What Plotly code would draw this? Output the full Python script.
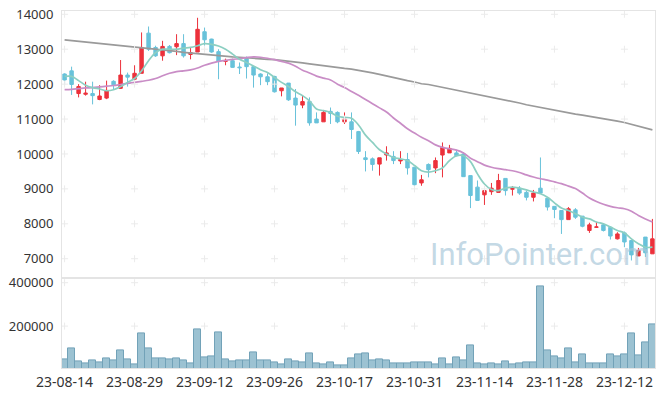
import plotly.graph_objects as go
import datetime as dt

# ---- data ----
start = dt.date(2023, 8, 14)
holidays = {dt.date(2023, 8, 15), dt.date(2023, 9, 28), dt.date(2023, 9, 29),
            dt.date(2023, 10, 2), dt.date(2023, 10, 3), dt.date(2023, 10, 9)}
dates = []
d = start
while len(dates) < 85:
    if d.weekday() < 5 and d not in holidays:
        dates.append(d.strftime("%y-%m-%d"))
    d += dt.timedelta(days=1)

open_ = [12290, 12380, 11730, 11710, 11730, 11560, 11600, 12080, 11880, 12260,
         12140, 12310, 13460, 13050, 12810, 13080, 13070, 13160, 12850, 12920,
         13500, 13290, 12930, 12650, 12670, 12490, 12730, 12500, 12290, 12210,
         12220, 11810, 12030, 11600, 11400, 11500, 11000, 10920, 11220, 11190,
         10920, 10920, 10640, 9890, 9860, 9710, 9970, 9930, 9800, 9840,
         9620, 9170, 9700, 9600, 9970, 10030, 10030, 10000, 9380, 9050,
         8830, 8920, 8900, 9300, 8990, 9020, 8900, 8760, 9020, 8730,
         8500, 8380, 8120, 8400, 8220, 7810, 7900, 7970, 7900, 7570,
         7740, 7520, 7080, 7620, 7140]
high = [12310, 12500, 12000, 12070, 12070, 11970, 12100, 12110, 12690, 12330,
        12540, 13480, 13650, 13100, 13240, 13120, 13430, 13430, 13050, 13900,
        13620, 13300, 13000, 12730, 12730, 12620, 12790, 12520, 12310, 12310,
        12240, 11890, 12030, 11860, 11670, 11620, 11190, 11260, 11330, 11220,
        11190, 11190, 10660, 10080, 9900, 9890, 10220, 10080, 10080, 10030,
        9620, 9400, 9730, 9900, 10330, 10260, 10120, 10050, 9380, 9240,
        8970, 9170, 9430, 9300, 9080, 9080, 8950, 8970, 9900, 8760,
        8500, 8380, 8480, 8450, 8220, 8030, 8050, 8000, 7930, 7760,
        7780, 7520, 7310, 7620, 8140]
low = [11970, 11690, 11620, 11670, 11420, 11540, 11570, 11860, 11860, 11930,
       12110, 12310, 12950, 12780, 12670, 12880, 12830, 12760, 12710, 12920,
       13100, 12900, 12140, 12540, 12470, 12290, 12160, 11900, 11970, 11970,
       11760, 11650, 11520, 10810, 11310, 10810, 10890, 10920, 10860, 10880,
       10860, 10430, 10000, 9500, 9520, 9380, 9810, 9710, 9710, 9410,
       9050, 9090, 9330, 9450, 9330, 10030, 9930, 9350, 8450, 8670,
       8540, 8830, 8900, 8810, 8810, 8830, 8670, 8640, 8880, 8380,
       8160, 7710, 8120, 8140, 7900, 7740, 7880, 7780, 7550, 7550,
       7330, 6950, 7080, 7050, 7140]
close = [12120, 11990, 11930, 11740, 11670, 11660, 11820, 11980, 12260, 12200,
         12310, 13050, 13000, 12810, 13080, 12900, 13160, 12810, 12900, 13570,
         13270, 12920, 12650, 12680, 12480, 12470, 12500, 12260, 12210, 12070,
         11780, 11890, 11550, 11400, 11500, 10890, 10890, 11190, 11160, 10920,
         11000, 10700, 10070, 9840, 9700, 9890, 10030, 9810, 9840, 9600,
         9120, 9260, 9550, 9810, 10190, 10160, 9950, 9350, 8810, 8670,
         8950, 9020, 9240, 8950, 9010, 8880, 8760, 8880, 8880, 8480,
         8410, 8120, 8430, 8190, 7930, 7970, 7910, 7810, 7650, 7710,
         7480, 7110, 7240, 7170, 7570]
ma5 = [12220, 12220, 12100, 11970, 11900, 11860, 11810, 11840, 11930, 12050,
       12160, 12380, 12670, 12900, 13000, 13000, 13000, 13030, 13050, 13100,
       13160, 13140, 13090, 13000, 12860, 12710, 12620, 12520, 12410, 12330,
       12190, 12050, 11930, 11780, 11670, 11520, 11290, 11240, 11190, 11080,
       11050, 11020, 10830, 10540, 10330, 10120, 10000, 9900, 9860, 9810,
       9670, 9520, 9480, 9520, 9600, 9810, 9950, 9950, 9780, 9430,
       9140, 8980, 8950, 9020, 9050, 9020, 8970, 8910, 8860, 8760,
       8600, 8450, 8380, 8290, 8190, 8140, 8050, 8000, 7910, 7810,
       7740, 7570, 7430, 7330, 7330]
ma20 = [11840, 11850, 11870, 11890, 11900, 11920, 11940, 11960, 11990, 12020,
        12050, 12080, 12110, 12160, 12240, 12310, 12360, 12380, 12410, 12460,
        12540, 12600, 12650, 12680, 12710, 12730, 12760, 12780, 12770, 12740,
        12700, 12650, 12600, 12510, 12400, 12320, 12230, 12170, 12120, 12000,
        11900, 11790, 11680, 11560, 11440, 11320, 11200, 11030, 10880, 10720,
        10600, 10480, 10380, 10260, 10190, 10150, 10110, 10030, 9880, 9780,
        9680, 9620, 9580, 9550, 9520, 9470, 9400, 9340, 9290, 9250,
        9200, 9150, 9080, 9010, 8880, 8740, 8640, 8560, 8500, 8460,
        8430, 8360, 8240, 8140, 8050]
ma60 = [13270, 13250, 13230, 13210, 13190, 13170, 13150, 13120, 13100, 13080,
        13060, 13040, 13020, 13000, 12980, 12960, 12940, 12910, 12890, 12870,
        12850, 12820, 12800, 12790, 12780, 12770, 12750, 12740, 12730, 12710,
        12700, 12680, 12670, 12640, 12610, 12580, 12550, 12520, 12490, 12470,
        12450, 12430, 12400, 12360, 12320, 12280, 12230, 12190, 12150, 12100,
        12060, 12010, 11990, 11950, 11920, 11870, 11830, 11790, 11750, 11710,
        11670, 11630, 11590, 11540, 11500, 11460, 11410, 11370, 11330, 11290,
        11240, 11210, 11180, 11140, 11110, 11080, 11040, 11010, 10970, 10940,
        10900, 10850, 10800, 10740, 10690]
volume = [46000, 95000, 37000, 28000, 41000, 32000, 51000, 41000, 88000, 46000,
          23000, 166000, 97000, 51000, 51000, 46000, 51000, 41000, 28000, 184000,
          55000, 60000, 170000, 46000, 37000, 41000, 41000, 77000, 41000, 41000,
          32000, 23000, 46000, 37000, 32000, 72000, 28000, 22000, 32000, 18000,
          18000, 51000, 69000, 72000, 41000, 46000, 41000, 28000, 28000, 28000,
          32000, 32000, 32000, 23000, 51000, 23000, 55000, 41000, 111000, 28000,
          23000, 28000, 23000, 37000, 23000, 28000, 32000, 32000, 384000, 88000,
          60000, 51000, 97000, 32000, 69000, 28000, 28000, 28000, 69000, 60000,
          69000, 166000, 65000, 124000, 206000]

price_ticks = [7000, 8000, 9000, 10000, 11000, 12000, 13000, 14000]
vol_ticks = [200000, 400000]
x_tick_idx = list(range(0, 85, 10))
x_ticks = [dates[i] for i in x_tick_idx]

RED = "#ec313b"
BLUE = "#68c2da"
FONT = "Noto Sans"

fig = go.Figure()

fig.add_trace(go.Scatter(x=dates, y=ma60, mode="lines", xaxis="x", yaxis="y",
                         line=dict(color="#9a9a9a", width=1.7), showlegend=False))
fig.add_trace(go.Scatter(x=dates, y=ma20, mode="lines", xaxis="x", yaxis="y",
                         line=dict(color="#c98dc6", width=1.7, shape="spline"), showlegend=False))
fig.add_trace(go.Scatter(x=dates, y=ma5, mode="lines", xaxis="x", yaxis="y",
                         line=dict(color="#8ccfc2", width=1.7, shape="spline"), showlegend=False))

fig.add_trace(go.Candlestick(
    x=dates, open=open_, high=high, low=low, close=close,
    xaxis="x", yaxis="y",
    increasing=dict(line=dict(color=RED, width=1), fillcolor=RED),
    decreasing=dict(line=dict(color=BLUE, width=1), fillcolor=BLUE),
    whiskerwidth=0, showlegend=False))

fig.add_trace(go.Bar(x=dates, y=volume, xaxis="x2", yaxis="y2",
                     marker=dict(color="#9cc2d2", line=dict(color="#72a2b8", width=1)),
                     showlegend=False))

# grid "+" marks at tick intersections
gx, gy = [], []
for xv in x_ticks:
    for yv in price_ticks:
        gx.append(xv); gy.append(yv)
fig.add_trace(go.Scatter(x=gx, y=gy, mode="markers", xaxis="x", yaxis="y",
                         marker=dict(symbol="cross-thin", size=5,
                                     line=dict(width=1, color="#ebebeb")),
                         hoverinfo="skip", showlegend=False))
vx, vy = [], []
for xv in x_ticks:
    for yv in vol_ticks:
        vx.append(xv); vy.append(yv)
fig.add_trace(go.Scatter(x=vx, y=vy, mode="markers", xaxis="x2", yaxis="y2",
                         marker=dict(symbol="cross-thin", size=5,
                                     line=dict(width=1, color="#ebebeb")),
                         hoverinfo="skip", showlegend=False))

xr = [-0.37, 84.37]
common_x = dict(type="category", categoryorder="array", categoryarray=dates,
                range=xr, showgrid=False, zeroline=False, automargin=False,
                showline=True, linecolor="#e4e4e4", mirror=True,
                rangeslider=dict(visible=False), fixedrange=True,
                tickmode="array", tickvals=x_ticks, tickangle=0)

fig.update_layout(
    width=665, height=397,
    margin=dict(l=62, r=10, t=11, b=29),
    paper_bgcolor="white", plot_bgcolor="white",
    font=dict(family=FONT, size=13, color="#333333"),
    bargap=0.0,
    showlegend=False,
    xaxis=dict(common_x, anchor="y", showticklabels=False),
    xaxis2=dict(common_x, anchor="y2", showticklabels=True, ticktext=x_ticks,
                ticks="outside", ticklen=1, tickcolor="rgba(0,0,0,0)",
                tickfont=dict(size=14, color="#333333")),
    yaxis=dict(domain=[0.251, 1.0], range=[6437, 14094], tickvals=price_ticks,
               tickformat="d", automargin=False,
               showgrid=False, zeroline=False, showline=True, linecolor="#e4e4e4",
               mirror=True, ticks="outside", ticklen=5, tickcolor="rgba(0,0,0,0)"),
    yaxis2=dict(domain=[0.0, 0.251], range=[6900, 419800], tickvals=vol_ticks,
                tickformat="d", automargin=False,
                showgrid=False, zeroline=False, showline=True, linecolor="#e4e4e4",
                mirror=True, ticks="outside", ticklen=5, tickcolor="rgba(0,0,0,0)"),
    annotations=[dict(text="InfoPointer.com", xref="paper", yref="paper",
                      x=0.806, y=0.317, xanchor="center", yanchor="middle",
                      showarrow=False,
                      font=dict(family="Roboto", size=31,
                                color="rgba(170,200,218,0.7)"))],
)

fig.write_html("out.html", config={"displayModeBar": False},
               post_script="document.body.style.margin='0';document.body.style.padding='0';")
